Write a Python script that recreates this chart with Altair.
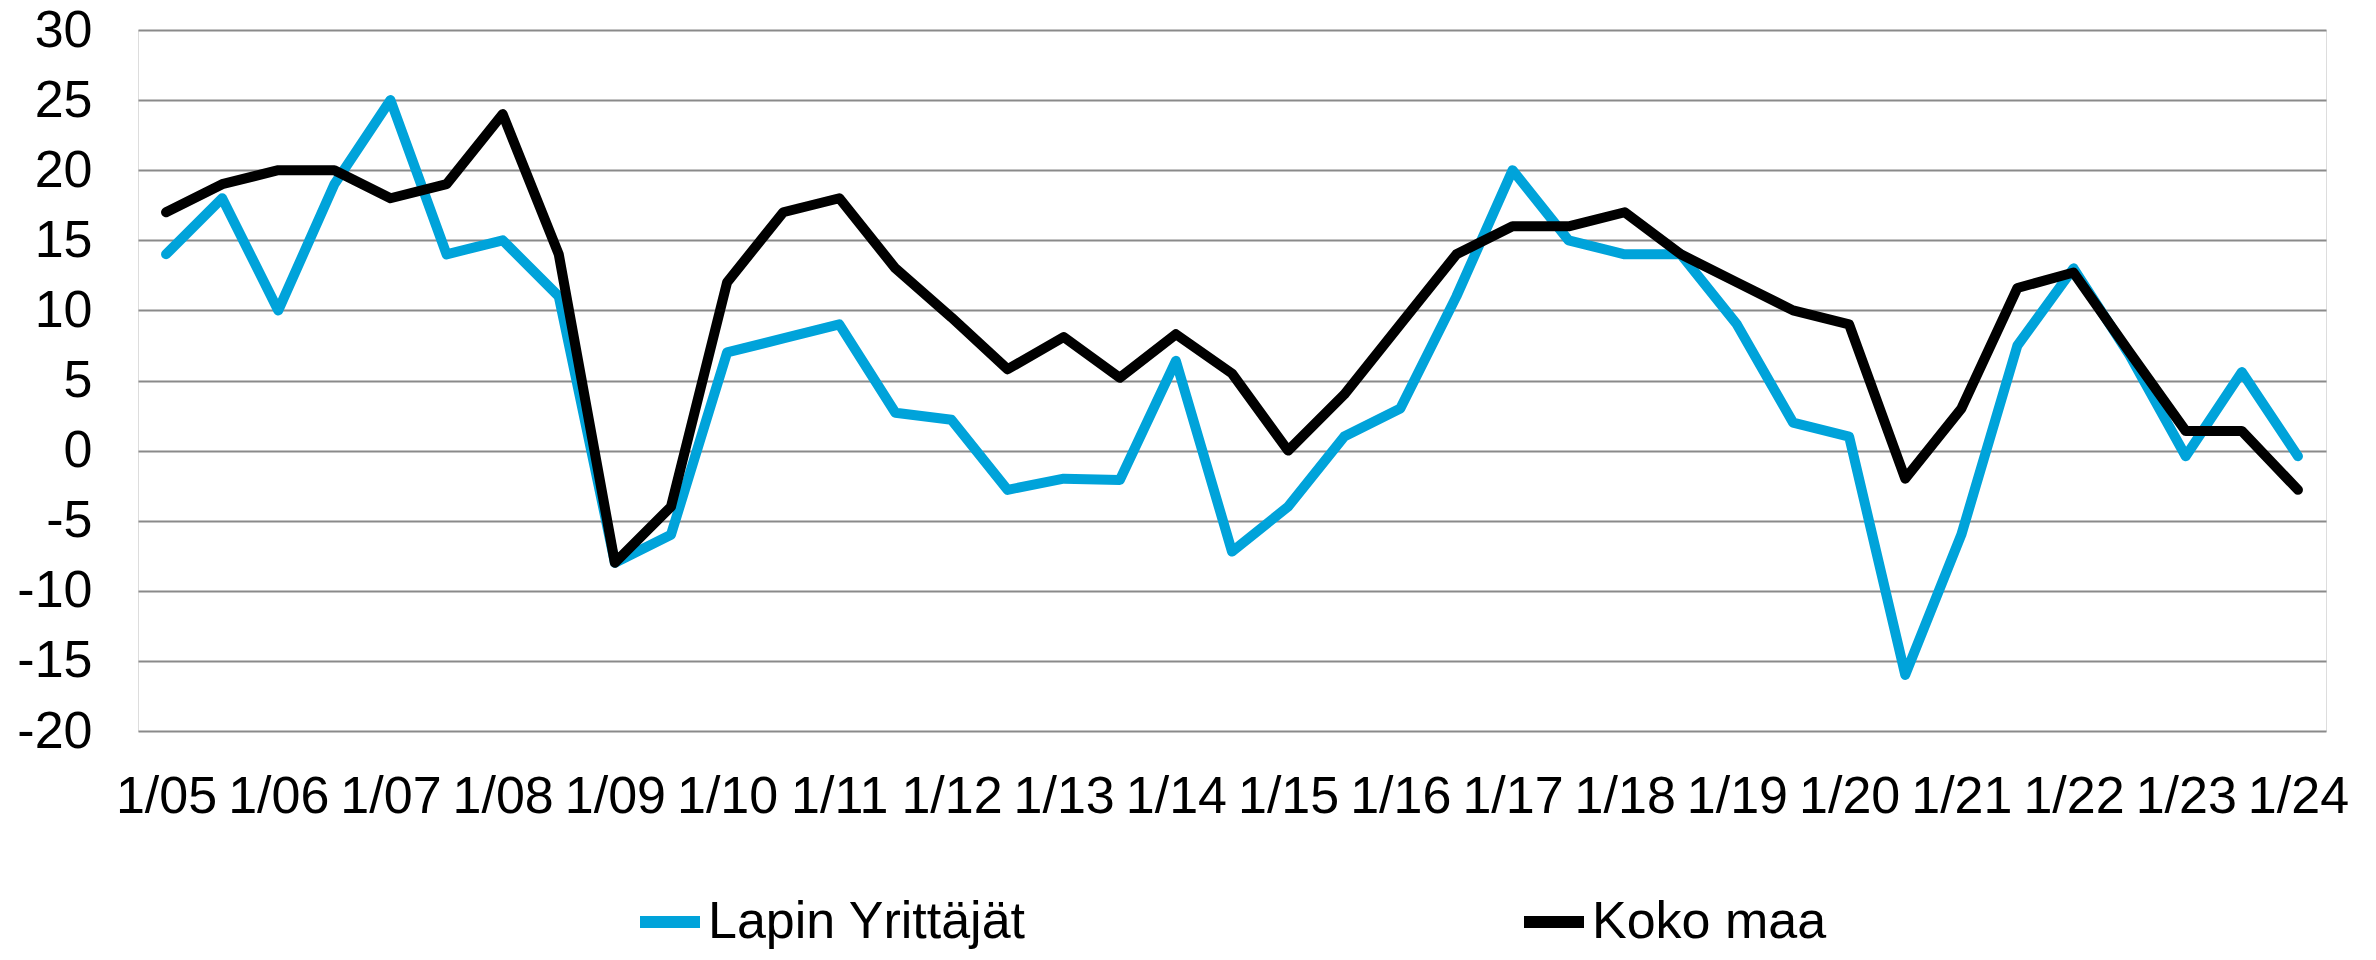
import altair as alt
import pandas as pd

periods = []
for yr in range(5, 25):
    periods.append(f"1/{yr:02d}")
    if yr < 24:
        periods.append(f"7/{yr:02d}")

lapin = [14, 18, 10, 19, 25, 14, 15, 11, -8, -6, 7, 8, 9, 2.7, 2.2, -2.8, -2.0, -2.1,
         6.4, -7.2, -4, 1, 3, 11, 20, 15, 14, 14, 9, 2, 1, -16, -6, 7.5, 13, 6.8,
         -0.4, 5.6, -0.4]
koko = [17, 19, 20, 20, 18, 19, 24, 14, -8, -4, 12, 17, 18, 13, 9.5, 5.8, 8.1, 5.2,
        8.3, 5.5, 0, 4, 9, 14, 16, 16, 17, 14, 12, 10, 9, -2, 3, 11.6, 12.7, 7,
        1.4, 1.4, -2.8]
series_names = ["Lapin Yrittäjät", "Koko maa"]
series_colors = ["#00a3da", "#000000"]
year_labels = [p for p in periods if p.startswith("1/")]
y_ticks = list(range(-20, 31, 5))

rows = []
for s, vals in zip(series_names, [lapin, koko]):
    for p, v in zip(periods, vals):
        rows.append({"period": p, "value": v, "series": s})
df = pd.DataFrame(rows)

FONT = "Liberation Sans"

chart = alt.Chart(df).mark_line(strokeWidth=10, strokeJoin="round", strokeCap="round").encode(
    x=alt.X("period:O", sort=periods, title=None,
            scale=alt.Scale(type="point", padding=0.5),
            axis=alt.Axis(values=year_labels, labelAngle=0, tickSize=0, labelPadding=40,
                          labelFontSize=52, labelFont=FONT, labelColor="#000000",
                          domain=False, grid=False, labelOverlap=False)),
    y=alt.Y("value:Q", title=None,
            scale=alt.Scale(domain=[-20, 30], nice=False, zero=False),
            axis=alt.Axis(values=y_ticks, tickSize=0, labelPadding=46, labelFontSize=52,
                          labelFont=FONT, labelColor="#000000", domain=False,
                          labelExpr="toString(datum.value)",
                          grid=True, gridColor="#8a8a8a", gridWidth=2)),
    color=alt.Color("series:N", sort=series_names,
                    scale=alt.Scale(domain=series_names, range=series_colors),
                    legend=alt.Legend(title=None, orient="none", direction="horizontal",
                                      legendX=496, legendY=856,
                                      symbolType="stroke", symbolSize=3600,
                                      symbolStrokeWidth=12, labelOffset=2,
                                      labelFontSize=52, labelFont=FONT,
                                      labelColor="#000000", labelLimit=1000,
                                      columnPadding=474)),
    order=alt.Order("series_order:Q"),
).transform_calculate(
    series_order="datum.series === 'Koko maa' ? 1 : 0"
).properties(
    width=2188, height=701,
    autosize=alt.AutoSizeParams(type="none"),
    padding={"left": 130, "top": 22, "right": 42, "bottom": 220},
).configure_view(
    stroke="#a6a6a6", strokeWidth=2
).configure(background="white")

chart.save("out.html", embed_options={"renderer": "svg", "actions": False})
